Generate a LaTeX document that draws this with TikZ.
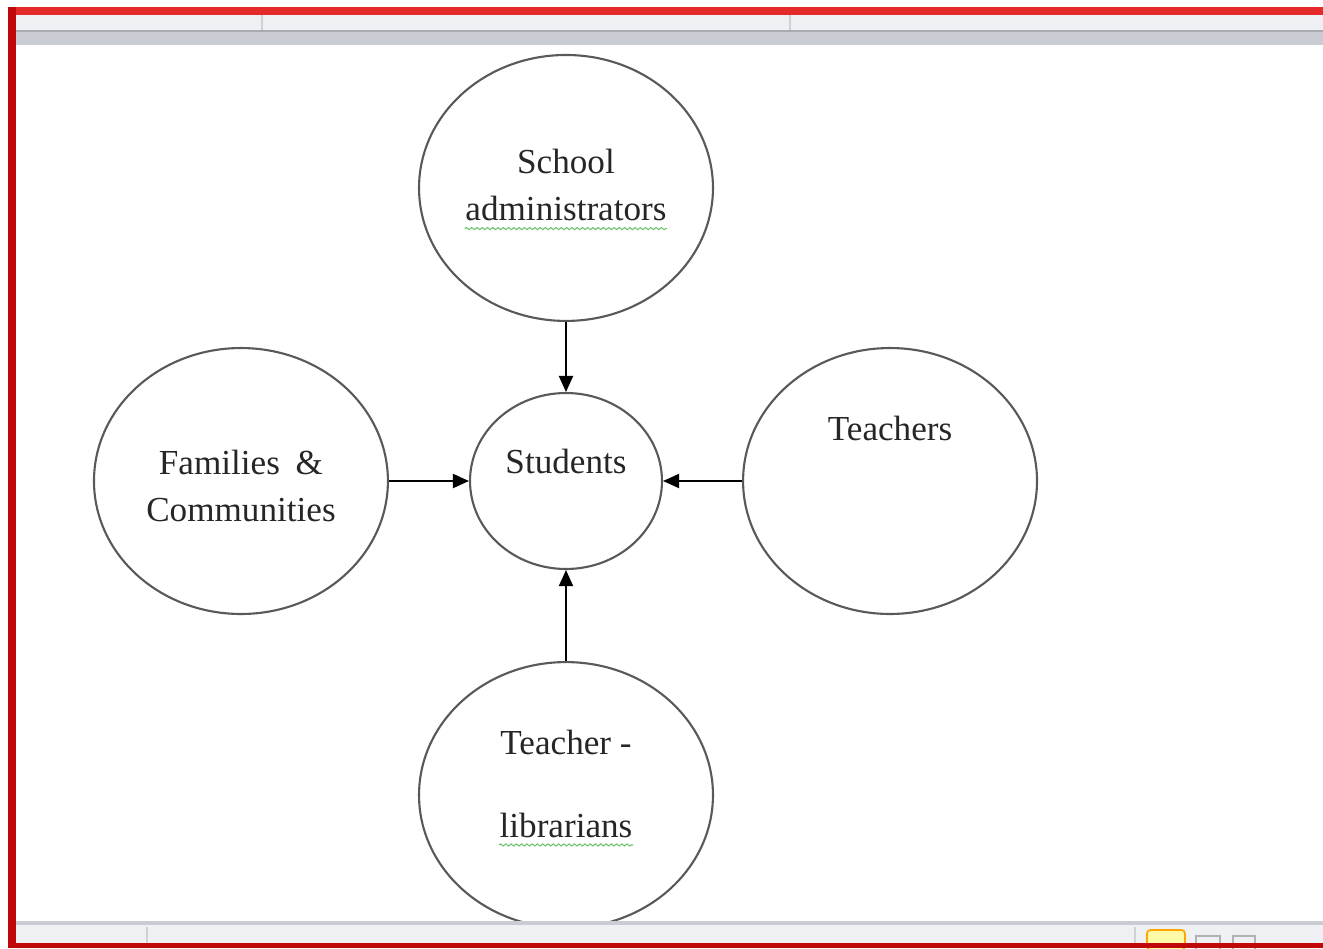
\documentclass[tikz,border=0pt]{standalone}
\usepackage{fontspec}
\setmainfont{Liberation Serif}
\usetikzlibrary{positioning,shapes.geometric,arrows.meta,decorations.pathmorphing}
\definecolor{winred}{HTML}{E42A2A}
\definecolor{winredd}{HTML}{C00808}
\definecolor{barlight}{HTML}{EEF0F3}
\definecolor{barband}{HTML}{C9CDD3}
\definecolor{bartop}{HTML}{A7ABB1}
\definecolor{spell}{HTML}{6CC36C}

\begin{document}
\begin{tikzpicture}[x=0.02cm, y=-0.02cm, thick,
	ring/.style = {draw=black!65, line width=1.2pt, ellipse, inner sep=0pt},
	big/.style = {ring, minimum width=5.88cm, minimum height=5.32cm},
	small/.style = {ring, minimum width=3.84cm, minimum height=3.52cm},
	txt/.style = {font=\fontsize{20}{27}\selectfont, text=black!85, align=center, inner sep=0pt, text depth=0pt},
	link/.style = {-{Triangle[length=0.32cm,width=0.28cm]}, line width=1.1pt, black},
	wave/.style = {draw=spell, line width=0.6pt, decorate, decoration={snake, amplitude=0.6pt, segment length=3pt}}]
				\useasboundingbox (0,0) rectangle (1323,948);
				\fill[white] (0,0) rectangle (1323,948);
				\node[small] (stu) at (566,481) {};
				\node[big] (adm) [above=1.4cm of stu] {};
				\node[big] (tea) [right=1.58cm of stu] {};
				\node[big] (fam) [left=1.6cm of stu] {};
				\node[big] (lib) [below=1.82cm of stu] {};
				\node[txt] (admtxt) at ([yshift=0.06cm]adm.center) {School\\administrators};
				\node[txt] (famtxt) at ([yshift=-0.1cm]fam.center) {Families\hspace{0.45em}\&\\Communities};
				\node[txt] (stutxt) at ([yshift=0.4cm]stu.center) {Students};
				\node[txt] (teatxt) at ([yshift=1.06cm]tea.center) {Teachers};
				\node[txt] (libtop) at ([yshift=1.06cm]lib.center) {Teacher -};
				\node[txt] (libbot) at ([yshift=-0.6cm]lib.center) {librarians};
				\draw[wave] ([yshift=-4pt]admtxt.south west) -- ([yshift=-4pt]admtxt.south east);
				\draw[wave] ([yshift=-4pt]libbot.south west) -- ([yshift=-4pt]libbot.south east);
				\draw[link] (adm) -- (stu);
				\draw[link] (fam) -- (stu);
				\draw[link] (tea) -- (stu);
				\draw[link] (lib) -- (stu);
				% window chrome
				\fill[barlight] (16,15) rectangle (1323,30);
				\fill[barband] (16,30) rectangle (1323,45);
				\fill[bartop] (16,30) rectangle (1323,32);
				\draw[black!18, line width=0.6pt] (262,15) -- (262,30);
				\draw[black!18, line width=0.6pt] (790,15) -- (790,30);
				\fill[barband] (16,921) rectangle (1323,925);
				\fill[barlight] (16,925) rectangle (1323,943);
				\draw[black!18, line width=0.6pt] (147,927) -- (147,943);
				\draw[black!18, line width=0.6pt] (1135,927) -- (1135,943);
				\draw[draw=orange!70!yellow, fill=yellow!35, line width=1pt, rounded corners=2pt] (1147,930) rectangle (1185,950);
				\draw[black!30, line width=0.8pt] (1196,936) rectangle (1220,950);
				\draw[black!30, line width=0.8pt] (1233,936) rectangle (1255,950);
				\fill[winred] (8,7) rectangle (1323,15);
				\fill[winredd] (8,7) rectangle (16,948);
				\fill[winredd] (16,943) rectangle (1323,948);
			\end{tikzpicture}
\end{document}
